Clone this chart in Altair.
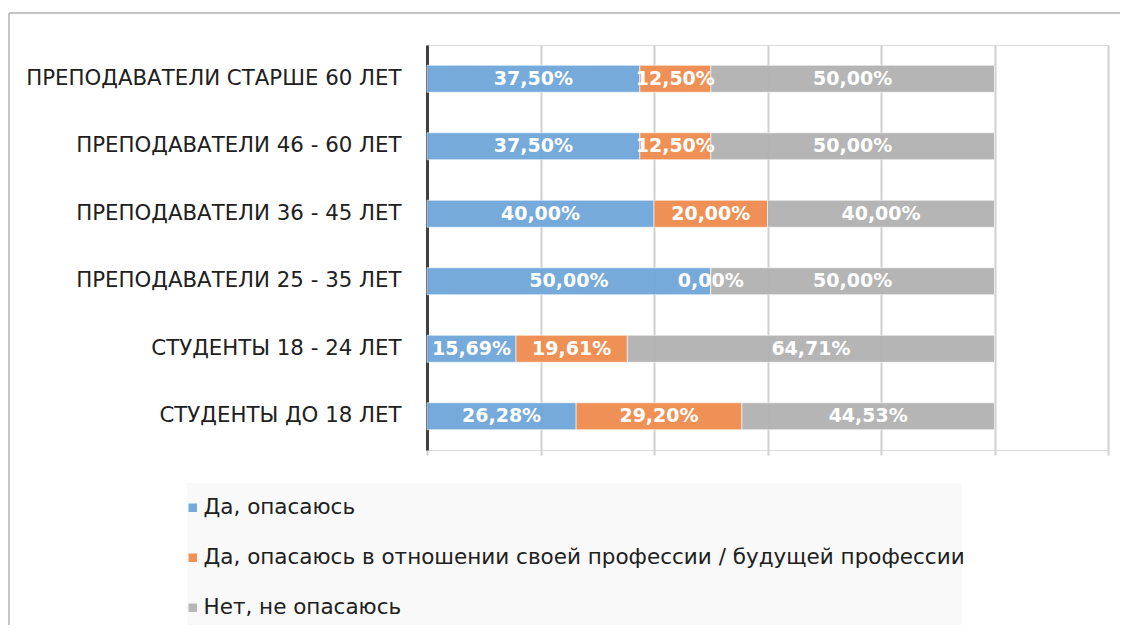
import altair as alt
import pandas as pd

categories = [
    "ПРЕПОДАВАТЕЛИ СТАРШЕ 60 ЛЕТ",
    "ПРЕПОДАВАТЕЛИ 46 - 60 ЛЕТ",
    "ПРЕПОДАВАТЕЛИ 36 - 45 ЛЕТ",
    "ПРЕПОДАВАТЕЛИ 25 - 35 ЛЕТ",
    "СТУДЕНТЫ 18 - 24 ЛЕТ",
    "СТУДЕНТЫ ДО 18 ЛЕТ",
]
series = [
    "Да, опасаюсь",
    "Да, опасаюсь в отношении своей профессии / будущей профессии",
    "Нет, не опасаюсь",
]
yes_fear = [37.50, 37.50, 40.00, 50.00, 15.69, 26.28]
yes_prof = [12.50, 12.50, 20.00, 0.00, 19.61, 29.20]
no_fear = [50.00, 50.00, 40.00, 50.00, 64.71, 44.53]
colors = ["#6ea6da", "#ef8c4e", "#b2b2b2"]

rows = []
for s_i, (s, vals) in enumerate(zip(series, [yes_fear, yes_prof, no_fear])):
    for c, v in zip(categories, vals):
        rows.append({"cat": c, "series": s, "order": s_i, "value": v / 100.0})
df = pd.DataFrame(rows)

FONT = "DejaVu Sans"

base = alt.Chart(df).transform_stack(
    stack="value", groupby=["cat"], as_=["start", "end"],
    sort=[alt.SortField("order", order="ascending")]
).transform_calculate(
    mid="(datum.start + datum.end) / 2",
    label="replace(format(datum.value * 100, '.2f'), '.', ',') + '%'",
)

y_enc = alt.Y(
    "cat:N", sort=categories, title=None,
    scale=alt.Scale(paddingInner=0.6, paddingOuter=0.3),
    axis=alt.Axis(
        domain=True, domainColor="#404040", domainWidth=3, ticks=False,
        labelPadding=26, labelFont=FONT, labelFontSize=21.3, labelColor="#202020",
        grid=False, labelLimit=500,
    ),
)

bars = base.mark_bar(stroke="white", strokeWidth=1, strokeOpacity=0.6, opacity=0.95).encode(
    x=alt.X(
        "start:Q", title=None,
        scale=alt.Scale(domain=[0, 1.2], nice=False),
        axis=alt.Axis(
            values=[0, 0.2, 0.4, 0.6, 0.8, 1.0, 1.2], labels=False, domain=False,
            grid=True, gridColor="#d0d0d0", gridWidth=2,
            ticks=True, tickColor="#d0d0d0", tickWidth=2, tickSize=5,
        ),
    ),
    x2="end:Q",
    y=y_enc,
    color=alt.Color(
        "series:N", sort=series, title=None,
        scale=alt.Scale(domain=series, range=colors),
        legend=alt.Legend(
            orient="none", legendX=-245, legendY=452, direction="vertical",
            symbolType="square", symbolSize=72, symbolStrokeWidth=0,
            labelFont=FONT, labelFontSize=21.5, labelColor="#202020",
            labelOffset=0, rowPadding=27, padding=0, labelLimit=900,
        ),
    ),
)

labels = base.mark_text(
    color="white", font=FONT, fontSize=19, fontWeight="bold", baseline="middle"
).encode(
    x=alt.X("mid:Q"),
    y=alt.Y("cat:N", sort=categories),
    text="label:N",
)

legend_box = alt.Chart(df).mark_rect(fill="#f9f9f9").encode(
    x=alt.value(-240), x2=alt.value(535), y=alt.value(438), y2=alt.value(580)
)
frame_top = alt.Chart(df).mark_rule(color="#c4c4c4", strokeWidth=2).encode(
    x=alt.value(-418), x2=alt.value(700), y=alt.value(-32)
)
frame_left = alt.Chart(df).mark_rule(color="#c4c4c4", strokeWidth=2).encode(
    x=alt.value(-418), y=alt.value(-32), y2=alt.value(600)
)

chart = alt.layer(legend_box, frame_top, frame_left, bars, labels).properties(
    width=681, height=405,
    autosize=alt.AutoSizeParams(type="none"),
    padding={"left": 419, "top": 37, "right": 12, "bottom": 175},
).configure_view(stroke=None).configure(background="white")

chart.save("out.html", embed_options={"renderer": "svg", "actions": False})
